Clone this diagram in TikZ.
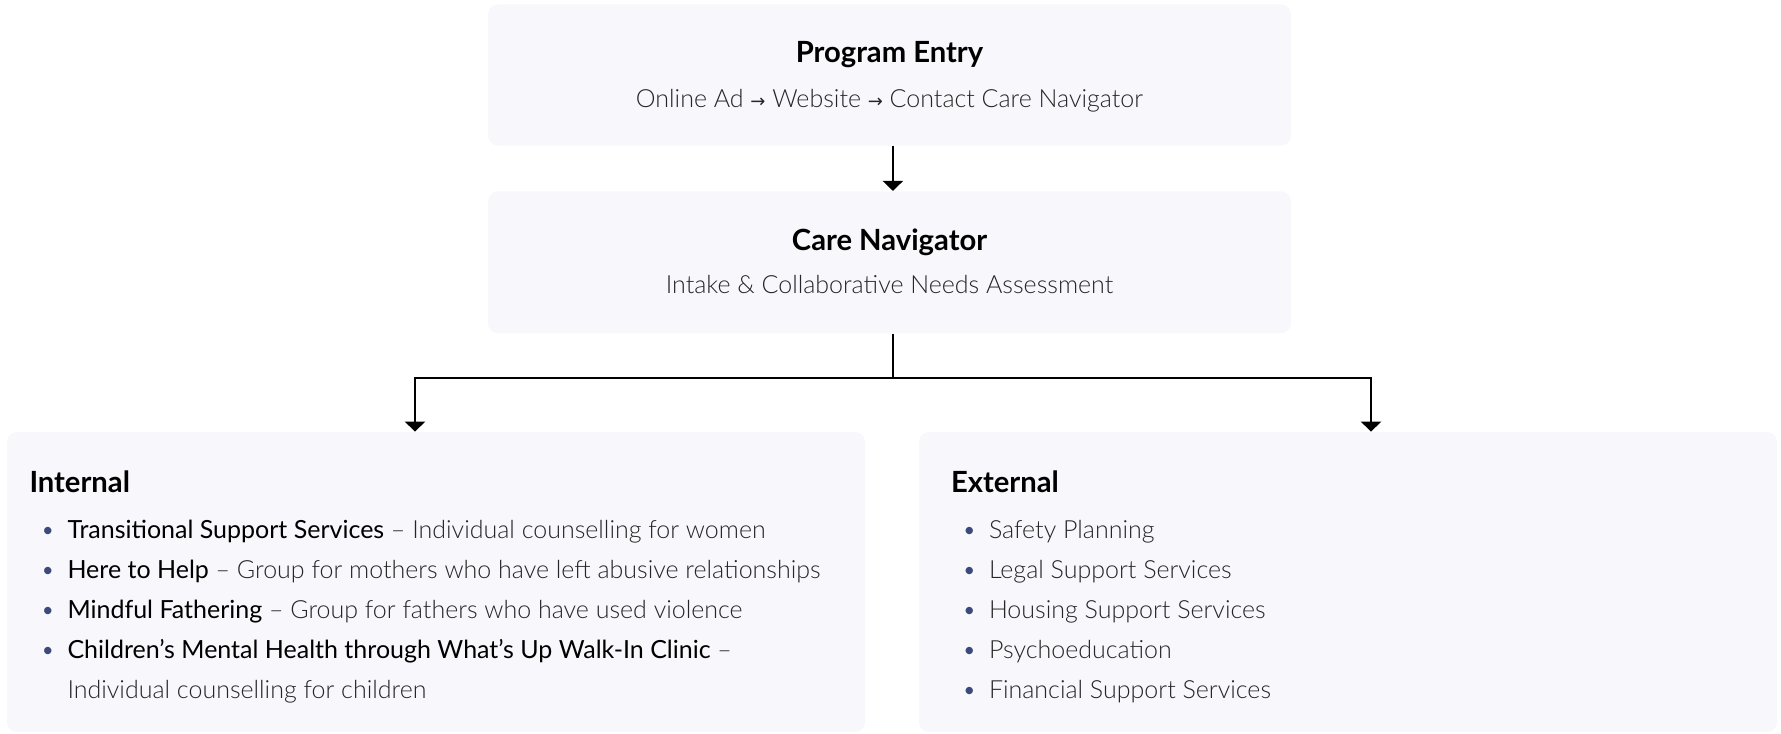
\documentclass[tikz,border=0pt]{standalone}
\usepackage{fontspec}
\setmainfont{Lato}
\newfontfamily\lightfont{Lato Light}
\newfontfamily\regfont{Lato}
\newfontfamily\arrowfont{DejaVu Sans}
\usepackage{xcolor}
\usetikzlibrary{arrows.meta, positioning}

\definecolor{panelfill}{HTML}{F7F7FC}
\definecolor{bodygray}{HTML}{262626}
\definecolor{dotblue}{HTML}{3B4A7A}

% small arrow between entry steps, bullet and bold label for the lists
\newcommand{\nxt}{{\arrowfont\fontsize{9}{9}\selectfont →}}
\newcommand{\itm}[1]{\makebox[13.5pt][l]{\textcolor{dotblue}{\textbullet}}#1}
\newcommand{\lbl}[1]{{\regfont\color{black}#1}}

\begin{document}
\begin{tikzpicture}[
        x=0.5pt, y=-0.5pt,
        panel/.style={rectangle, fill=panelfill, rounded corners=5pt, inner sep=0pt},
        title/.style={font=\fontsize{14.6}{17}\selectfont\bfseries, inner sep=0pt},
        note/.style={font=\lightfont\fontsize{12.5}{20}\selectfont, text=bodygray, inner sep=0pt},
        list/.style={font=\lightfont\fontsize{12.5}{20}\selectfont, text=bodygray, align=left, inner sep=0pt},
        link/.style={line width=1.2pt},
        arrow/.style={-{Triangle[width=10pt,length=5pt]}, line width=1.2pt}
    ]
        \useasboundingbox (0,0) rectangle (1781,733);

        % entry and navigator
        \node[panel, minimum width=401.5pt, minimum height=70.5pt] (entry) at (889.5,75) {};
        \node[panel, minimum width=401.5pt, minimum height=71pt, below=22.5pt of entry] (nav) {};

        \node[title, anchor=base] (entryTitle) at ([yshift=6pt]entry.center) {Program Entry};
        \node[note, anchor=base] (entryNote) at ([yshift=-16.5pt]entry.center)
            {Online Ad \nxt{} Website \nxt{} Contact Care Navigator};
        \node[title, anchor=base] (navTitle) at ([yshift=6pt]nav.center) {Care Navigator};
        \node[note, anchor=base] (navNote) at ([yshift=-15.5pt]nav.center)
            {Intake \& Collaborative Needs Assessment};

        % service panels
        \node[panel, minimum width=429pt, minimum height=150pt] (int) at (436,582) {};
        \node[panel, minimum width=429pt, minimum height=150pt] (ext) at (1348,582) {};

        \node[title, anchor=base west] (intTitle) at ([xshift=11.25pt, yshift=-30.5pt]int.north west) {Internal};
        \node[list, anchor=north west] (intList) at ([xshift=16.75pt, yshift=-39pt]int.north west) {%
            \strut\itm{\lbl{Transitional Support Services} – Individual counselling for women}\\
            \itm{\lbl{Here to Help} – Group for mothers who have left abusive relationships}\\
            \itm{\lbl{Mindful Fathering} – Group for fathers who have used violence}\\
            \itm{\lbl{Children’s Mental Health through What’s Up Walk-In Clinic} –}\\
            \hspace*{13.5pt}Individual counselling for children};

        \node[title, anchor=base west] (extTitle) at ([xshift=16pt, yshift=-30.5pt]ext.north west) {External};
        \node[list, anchor=north west] (extList) at ([xshift=21.5pt, yshift=-39pt]ext.north west) {%
            \strut\itm{Safety Planning}\\
            \itm{Legal Support Services}\\
            \itm{Housing Support Services}\\
            \itm{Psychoeducation}\\
            \itm{Financial Support Services}};

        % connectors
        \draw[arrow] ([xshift=1.7pt]entry.south) -- ([xshift=1.7pt]nav.north);
        \draw[link] ([xshift=1.7pt]nav.south) -- ++(0,44) coordinate (split);
        \draw[arrow] (split) -| ([xshift=-10.5pt]int.north);
        \draw[arrow] (split) -| ([xshift=11.5pt]ext.north);
    \end{tikzpicture}
\end{document}
